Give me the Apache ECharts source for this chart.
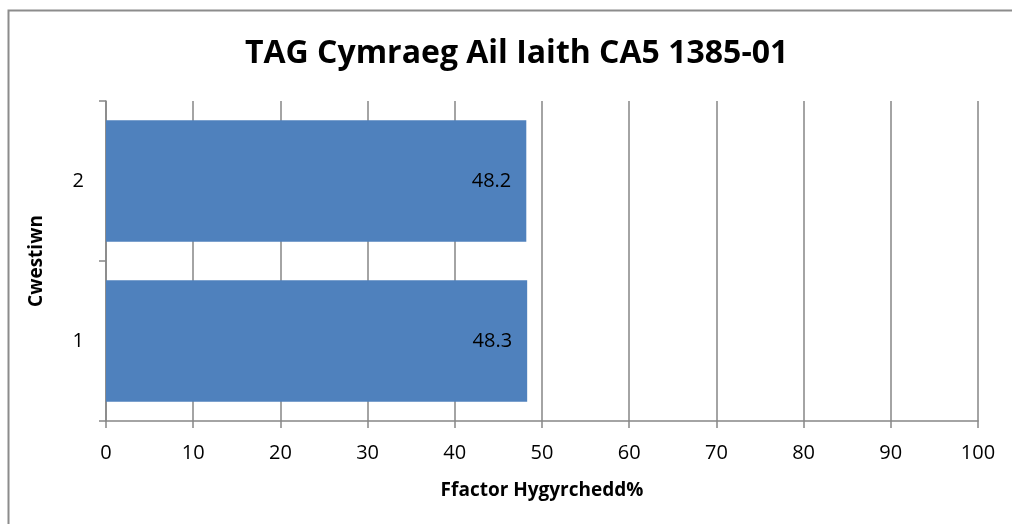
<!DOCTYPE html>
<html>
<head>
<meta charset="utf-8">
<script src="https://cdn.jsdelivr.net/npm/echarts@6/dist/echarts.min.js"></script>
<style>html,body{margin:0;padding:0;background:#fff;}#c{width:1012px;height:524px;}</style>
</head>
<body>
<div id="c"></div>
<script>
const categories = ['1', '2'];
const values = [48.3, 48.2];
const xTicks = [0, 100, 10];
const titleText = 'TAG Cymraeg Ail Iaith CA5 1385-01';
const xName = 'Ffactor Hygyrchedd%';
const yName = 'Cwestiwn';

const font = "'Open Sans', 'Liberation Sans', sans-serif";
const chart = echarts.init(document.getElementById('c'));
chart.setOption({
  animation: false,
  backgroundColor: '#fff',
  graphic: [{
    type: 'rect', left: 6, top: 8,
    shape: { x: 0, y: 0, width: 1012, height: 520 },
    style: { fill: 'none', stroke: '#8c8c8c', lineWidth: 2 },
    silent: true, z: -1
  }],
  title: {
    text: titleText, left: 240, top: 33,
    textStyle: { fontFamily: font, fontSize: 32, fontWeight: 'bold', color: '#000' }
  },
  grid: { left: 106, right: 34, top: 101, bottom: 103 },
  xAxis: {
    type: 'value', min: xTicks[0], max: xTicks[1], interval: xTicks[2],
    name: xName, nameLocation: 'middle', nameGap: 60,
    nameTextStyle: { fontFamily: font, fontSize: 19, fontWeight: 'bold', color: '#000' },
    axisLine: { show: true, lineStyle: { color: '#868686', width: 1.5 } },
    axisTick: { show: true, length: 7, lineStyle: { color: '#868686', width: 1.5 } },
    axisLabel: { fontFamily: font, fontSize: 20, color: '#000', margin: 22 },
    splitLine: { show: true, lineStyle: { color: '#868686', width: 1.5 } }
  },
  yAxis: {
    type: 'category', data: categories,
    name: yName, nameLocation: 'middle', nameGap: 60, nameRotate: 90,
    nameTextStyle: { fontFamily: font, fontSize: 19, fontWeight: 'bold', color: '#000' },
    axisLine: { show: true, lineStyle: { color: '#868686', width: 1.5 } },
    axisTick: { show: true, length: 7, alignWithLabel: false, lineStyle: { color: '#868686', width: 1.5 } },
    axisLabel: { fontFamily: font, fontSize: 20, color: '#000', margin: 22 },
    splitLine: { show: false }
  },
  series: [{
    type: 'bar', data: values, barCategoryGap: '24%',
    itemStyle: { color: '#4F81BD' },
    label: {
      show: true, position: 'insideRight', distance: 15,
      fontFamily: font, fontSize: 20, color: '#000'
    }
  }]
});
</script>
</body>
</html>
